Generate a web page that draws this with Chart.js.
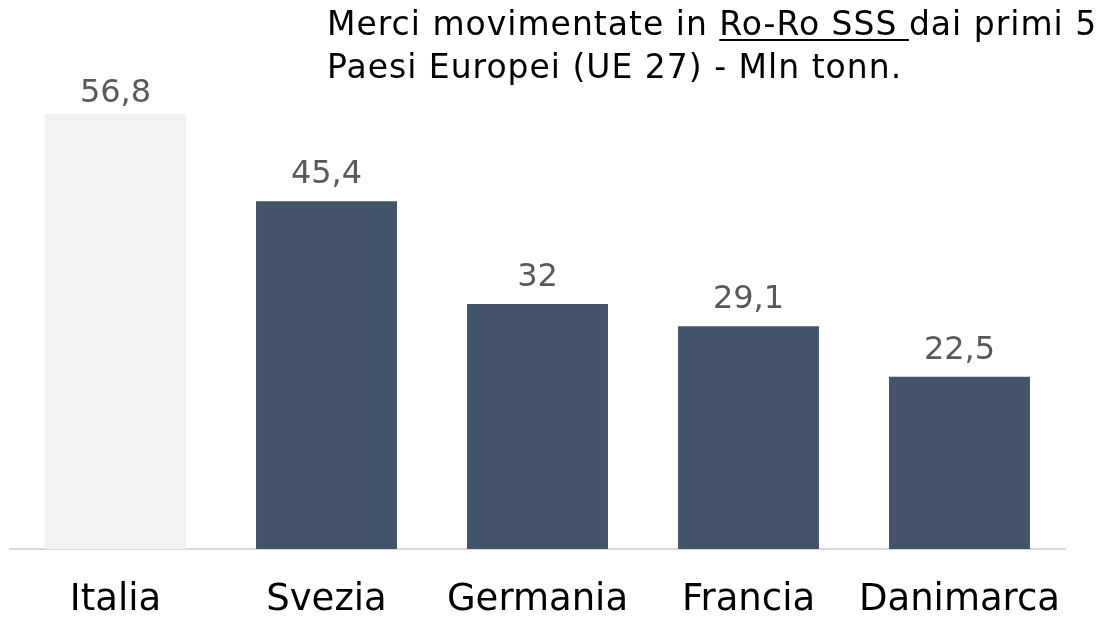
<!DOCTYPE html>
<html lang="it">
<head>
  <meta charset="UTF-8">
  <title>Merci movimentate in Ro-Ro SSS</title>
  <script src="https://cdn.jsdelivr.net/npm/chart.js"></script>
  <style>
    body { margin: 0; background: #fff; }
  </style>
</head>
<body>
  <canvas id="roroChart" width="1102" height="626"></canvas>

  <script>
    // dati (Mln tonn.)
    const paesi = ['Italia', 'Svezia', 'Germania', 'Francia', 'Danimarca'];
    const merci = [56.8, 45.4, 32, 29.1, 22.5];
    const coloriBarre = ['#f2f2f2', '#44546a', '#44546a', '#44546a', '#44546a'];

    const FONT = '"DejaVu Sans", sans-serif';

    // etichette con la virgola sopra le barre
    const etichetteValori = {
      id: 'etichetteValori',
      afterDatasetsDraw(chart) {
        const ctx = chart.ctx;
        const meta = chart.getDatasetMeta(0);
        ctx.save();
        ctx.font = '32px ' + FONT;
        ctx.fillStyle = '#595959';
        ctx.textAlign = 'center';
        ctx.textBaseline = 'alphabetic';
        meta.data.forEach((bar, i) => {
          // la prima etichetta resta dentro l'area del grafico
          const y = Math.max(bar.y - 18, 102);
          ctx.fillText(String(merci[i]).replace('.', ','), bar.x, y);
        });
        ctx.restore();
      }
    };

    // titolo su due righe, con "Ro-Ro SSS " sottolineato
    const titolo = {
      id: 'titolo',
      afterDraw(chart) {
        const ctx = chart.ctx;
        ctx.save();
        ctx.font = '33px ' + FONT;
        ctx.letterSpacing = '1px';
        ctx.fillStyle = '#000';
        ctx.textAlign = 'left';
        ctx.textBaseline = 'alphabetic';
        let x = 327;
        const y1 = 35, y2 = 78;
        const parti = ['Merci movimentate in ', 'Ro-Ro SSS ', 'dai primi 5'];
        parti.forEach((p, i) => {
          ctx.fillText(p, x, y1);
          const w = ctx.measureText(p).width;
          if (i === 1) {
            ctx.fillRect(x, y1 + 4, w, 2);
          }
          x += w;
        });
        ctx.fillText('Paesi Europei (UE 27) - Mln tonn.', 327, y2);
        ctx.restore();
      }
    };

    const ctx = document.getElementById('roroChart').getContext('2d');
    new Chart(ctx, {
      type: 'bar',
      data: {
        labels: paesi,
        datasets: [{
          data: merci,
          backgroundColor: coloriBarre,
          borderWidth: 0,
          categoryPercentage: 1,
          barPercentage: 0.668
        }]
      },
      options: {
        responsive: false,
        animation: false,
        layout: { padding: { top: 13, left: 10, right: 37, bottom: 0 } },
        plugins: {
          legend: { display: false },
          tooltip: { enabled: false },
          title: { display: false }
        },
        scales: {
          x: {
            grid: { display: false },
            border: { color: '#d9d9d9', width: 2 },
            ticks: {
              color: '#000',
              padding: 21,
              font: { family: FONT, size: 37 }
            },
            afterFit(scale) { scale.height = 77; }
          },
          y: {
            display: false,
            min: 0,
            max: 70
          }
        }
      },
      plugins: [etichetteValori, titolo]
    });
  </script>
</body>
</html>
